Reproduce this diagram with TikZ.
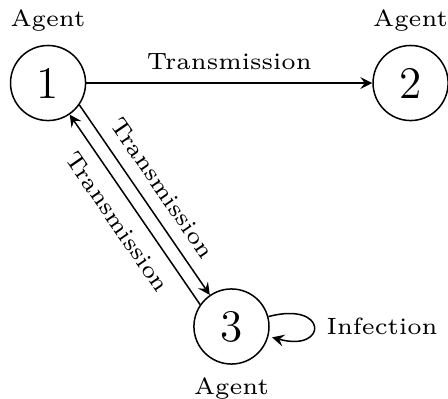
\documentclass[tikz,border=0pt]{standalone}
\usetikzlibrary{arrows}
\begin{document}
\begin{tikzpicture}[>=stealth,
    agent/.style={circle,draw,minimum size=0.7cm,font=\large},
    lbl/.style={font=\fontsize{6.25}{7.5}\selectfont}]
  \useasboundingbox (-0.448,0.774) rectangle (3.729,-2.946);
  \node[agent,label={[lbl]above:Agent}] (n1) at (0,0) {1};
  \node[agent,label={[lbl]above:Agent}] (n2) at (3.38,0) {2};
  \node[agent,label={[lbl]below:Agent}] (n3) at (1.71,-2.27) {3};

  \draw[->] (n1) -- node[lbl,above] {Transmission} (n2);
  \draw[->] (n1.-35) -- node[lbl,sloped,above] {Transmission} (n3);
  \draw[->] (n3.145) -- node[lbl,sloped,below] {Transmission} (n1);
  \path (n3) edge[->,loop right] node[lbl] {Infection} (n3);
\end{tikzpicture}
\end{document}
